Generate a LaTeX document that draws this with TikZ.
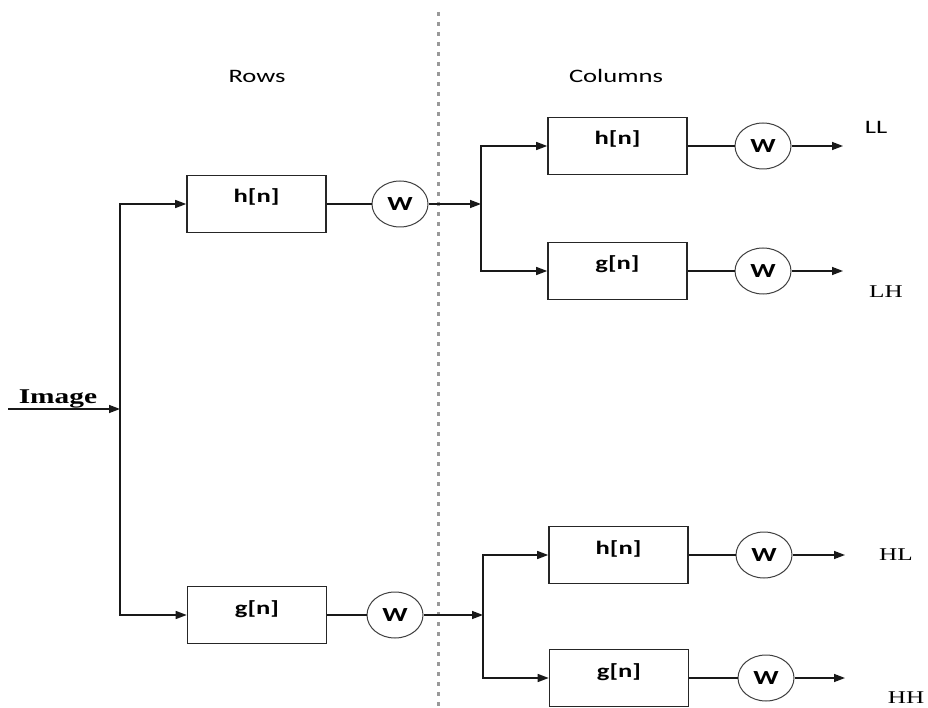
\documentclass[tikz,border=0pt]{standalone}
\usepackage{fontspec}
\setmainfont[FakeStretch=1.4]{Liberation Serif}
\setsansfont[FakeStretch=1.4]{Carlito}
\usetikzlibrary{shapes.geometric,arrows.meta}
\begin{document}
\begin{tikzpicture}[x=1pt,y=-1pt,
  filterbox/.style={draw=black!85,line width=1.6pt,minimum width=139pt,minimum height=57pt,inner sep=0pt,
    font=\sffamily\bfseries\fontsize{19}{22}\selectfont,text height=12pt,text depth=14pt},
  wnode/.style={ellipse,draw=black!75,line width=1pt,minimum width=56pt,minimum height=46pt,inner sep=0pt,
    font=\sffamily\bfseries\fontsize{20}{22}\selectfont},
  sanslabel/.style={font=\sffamily\fontsize{19}{22}\selectfont,anchor=base,inner sep=0pt},
  seriflabel/.style={font=\rmfamily\fontsize{18}{22}\selectfont,anchor=base,inner sep=0pt},
  conn/.style={line width=1.4pt,draw=black!90},
  arr/.style={conn,-{Triangle[length=11pt,width=8pt]}}
]
\useasboundingbox (0,0) rectangle (928,708);
% divider
\draw[gray!80,line width=3pt,dash pattern=on 4pt off 6pt] (438,12) -- (438,706);
% labels
\node[sanslabel] (rows) at (257,83) {Rows};
\node[sanslabel] (cols) at (616,83) {Columns};
\node[font=\rmfamily\bfseries\fontsize{21}{24}\selectfont,anchor=base,inner sep=0pt] (img) at (58,403) {Image};
% boxes
\node[filterbox] (B1) at (256.5,204) {h[n]};
\node[filterbox] (B2) at (257,615) {g[n]};
\node[filterbox] (C1) at (617.5,146) {h[n]};
\node[filterbox] (C2) at (617.5,271) {g[n]};
\node[filterbox] (C3) at (618.5,555) {h[n]};
\node[filterbox] (C4) at (619,678) {g[n]};
% W nodes
\node[wnode] (W1) at (400,204) {W};
\node[wnode] (W2) at (395,615) {W};
\node[wnode] (W3) at (763,146) {W};
\node[wnode] (W4) at (763,271) {W};
\node[wnode] (W5) at (764,555) {W};
\node[wnode] (W6) at (766,678) {W};
% coordinates
\coordinate (in) at (8,409);
\coordinate (j0) at (120,409);
\coordinate (j1) at (481,204);
\coordinate (j2) at (483,615);
\coordinate (o1) at (843,146);
\coordinate (o2) at (843,271);
\coordinate (o3) at (845,555);
\coordinate (o4) at (845,678);
% output labels
\node[sanslabel] (LL) at (876,134) {LL};
\node[seriflabel] (LH) at (886,298) {LH};
\node[seriflabel] (HL) at (896,560) {HL};
\node[seriflabel] (HH) at (906,703) {HH};
% connectors
\draw[arr] (in) -- (j0);
\draw[arr] (j0) |- (B1.west);
\draw[arr] (j0) |- (B2.west);
\draw[conn] (B1.east) -- (W1.west);
\draw[conn] (B2.east) -- (W2.west);
\draw[arr] (W1.east) -- (j1);
\draw[arr] (W2.east) -- (j2);
\draw[arr] (j1) |- (C1.west);
\draw[arr] (j1) |- (C2.west);
\draw[arr] (j2) |- (C3.west);
\draw[arr] (j2) |- (C4.west);
\draw[conn] (C1.east) -- (W3.west);
\draw[conn] (C2.east) -- (W4.west);
\draw[conn] (C3.east) -- (W5.west);
\draw[conn] (C4.east) -- (W6.west);
\draw[arr] (W3.east) -- (o1);
\draw[arr] (W4.east) -- (o2);
\draw[arr] (W5.east) -- (o3);
\draw[arr] (W6.east) -- (o4);
\end{tikzpicture}
\end{document}
